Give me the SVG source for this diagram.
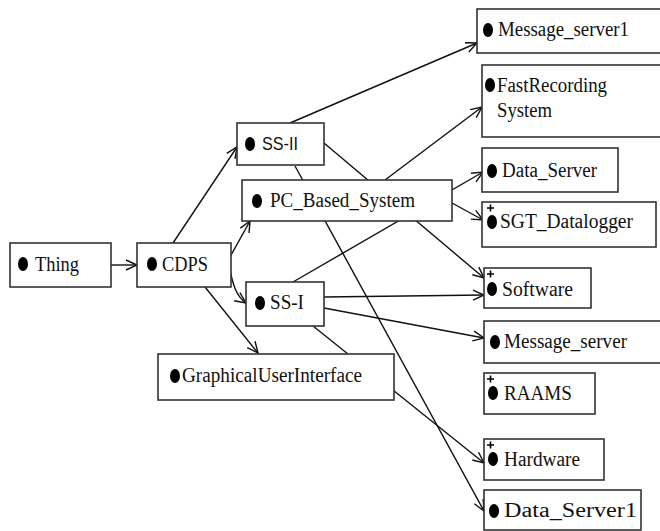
<svg xmlns="http://www.w3.org/2000/svg" width="660" height="531" viewBox="0 0 660 531">
<defs>
<marker id="arr" markerUnits="userSpaceOnUse" markerWidth="14" markerHeight="12" viewBox="-1 -6 13 12" refX="11" refY="0" orient="auto">
<path d="M0,-5 L11,0 L0,5" fill="none" stroke="#111" stroke-width="1.4"/>
</marker>
</defs>
<style>
.box{fill:#fff;stroke:#333;stroke-width:1.6}
.b{fill:#000}
.p{stroke:#000;stroke-width:1.6}
.e{fill:none;stroke:#111;stroke-width:1.4}
</style>
<rect width="660" height="531" fill="#fff"/>
<g id="connectors">
<path class="e" d="M111,265 L137,265" marker-end="url(#arr)"/>
<path class="e" d="M173,243 L237,147" marker-end="url(#arr)"/>
<path class="e" d="M230,257 L250,221" marker-end="url(#arr)"/>
<path class="e" d="M229,266 C233,285 236,296 246,303" marker-end="url(#arr)"/>
<path class="e" d="M205,287 L258,353" marker-end="url(#arr)"/>
<path class="e" d="M290,123 L477,43" marker-end="url(#arr)"/>
<path class="e" d="M324,143 L484,278" marker-end="url(#arr)"/>
<path class="e" d="M295,166 L484,511" marker-end="url(#arr)"/>
<path class="e" d="M385,180 L482,107" marker-end="url(#arr)"/>
<path class="e" d="M452,203 L483,220" marker-end="url(#arr)"/>
<path class="e" d="M293,282 L483,172" marker-end="url(#arr)"/>
<path class="e" d="M324,297 L484,295" marker-end="url(#arr)"/>
<path class="e" d="M324,308 L484,338" marker-end="url(#arr)"/>
<path class="e" d="M313,326 L484,463" marker-end="url(#arr)"/>
</g>
<g font-family="'Liberation Serif', 'DejaVu Serif', serif" font-size="20" fill="#111">
<g id="Thing">
<rect class="box" x="10" y="243" width="101" height="44"/>
<ellipse class="b" cx="23" cy="264" rx="5" ry="7"/>
<text x="35" y="271" textLength="44" lengthAdjust="spacingAndGlyphs">Thing</text>
</g>
<g id="CDPS">
<rect class="box" x="137" y="243" width="94" height="44"/>
<ellipse class="b" cx="152" cy="264" rx="5" ry="7"/>
<text x="162" y="271" textLength="46" lengthAdjust="spacingAndGlyphs">CDPS</text>
</g>
<g id="SS-II">
<rect class="box" x="237" y="123" width="87" height="42"/>
<ellipse class="b" cx="250" cy="144" rx="5" ry="7"/>
<text x="262" y="150" font-family="'Liberation Sans', Arial, sans-serif" font-size="18" textLength="36" lengthAdjust="spacingAndGlyphs">SS-II</text>
</g>
<g id="PC_Based_System">
<rect class="box" x="242" y="180" width="210" height="41"/>
<ellipse class="b" cx="257" cy="201" rx="5" ry="7"/>
<text x="270" y="207" textLength="145" lengthAdjust="spacingAndGlyphs">PC_Based_System</text>
</g>
<g id="SS-I">
<rect class="box" x="246" y="282" width="78" height="44"/>
<ellipse class="b" cx="260" cy="303" rx="5" ry="7"/>
<text x="270" y="309" textLength="34" lengthAdjust="spacingAndGlyphs">SS-I</text>
</g>
<g id="GraphicalUserInterface">
<rect class="box" x="158" y="354" width="236" height="46"/>
<ellipse class="b" cx="175" cy="376" rx="5" ry="7"/>
<text x="182" y="382" textLength="180" lengthAdjust="spacingAndGlyphs">GraphicalUserInterface</text>
</g>
<g id="Message_server1">
<rect class="box" x="477" y="9" width="190" height="44"/>
<ellipse class="b" cx="488" cy="30" rx="5" ry="7"/>
<text x="498" y="36" textLength="131" lengthAdjust="spacingAndGlyphs">Message_server1</text>
</g>
<g id="FastRecordingSystem">
<rect class="box" x="482" y="65" width="190" height="72"/>
<ellipse class="b" cx="490" cy="85" rx="5" ry="7"/>
<text x="497" y="92" textLength="110" lengthAdjust="spacingAndGlyphs">FastRecording</text>
<text x="497" y="117" textLength="55" lengthAdjust="spacingAndGlyphs">System</text>
</g>
<g id="Data_Server">
<rect class="box" x="482" y="148" width="136" height="44"/>
<ellipse class="b" cx="492" cy="171" rx="5" ry="7"/>
<text x="502" y="177" textLength="95" lengthAdjust="spacingAndGlyphs">Data_Server</text>
</g>
<g id="SGT_Datalogger">
<rect class="box" x="482" y="202" width="174" height="45"/>
<path class="p" d="M487,208 H494 M490.5,204.5 V211.5"/>
<ellipse class="b" cx="492" cy="222" rx="5" ry="7"/>
<text x="500" y="228" textLength="133" lengthAdjust="spacingAndGlyphs">SGT_Datalogger</text>
</g>
<g id="Software">
<rect class="box" x="484" y="268" width="107" height="40"/>
<path class="p" d="M487,274 H494 M490.5,270.5 V277.5"/>
<ellipse class="b" cx="492" cy="289" rx="5" ry="7"/>
<text x="502" y="296" textLength="71" lengthAdjust="spacingAndGlyphs">Software</text>
</g>
<g id="Message_server">
<rect class="box" x="484" y="321" width="190" height="42"/>
<ellipse class="b" cx="495" cy="342" rx="5" ry="7"/>
<text x="504" y="348" textLength="123" lengthAdjust="spacingAndGlyphs">Message_server</text>
</g>
<g id="RAAMS">
<rect class="box" x="484" y="373" width="111" height="41"/>
<path class="p" d="M487,379 H494 M490.5,375.5 V382.5"/>
<ellipse class="b" cx="493" cy="393" rx="5" ry="7"/>
<text x="504" y="400" textLength="68" lengthAdjust="spacingAndGlyphs">RAAMS</text>
</g>
<g id="Hardware">
<rect class="box" x="484" y="439" width="120" height="41"/>
<path class="p" d="M487,445 H494 M490.5,441.5 V448.5"/>
<ellipse class="b" cx="493" cy="459" rx="5" ry="7"/>
<text x="504" y="466" textLength="76" lengthAdjust="spacingAndGlyphs">Hardware</text>
</g>
<g id="Data_Server1">
<rect class="box" x="484" y="490" width="157" height="40"/>
<ellipse class="b" cx="494" cy="511" rx="5" ry="7"/>
<text x="504" y="517" textLength="133" lengthAdjust="spacingAndGlyphs">Data_Server1</text>
</g>
</g>
</svg>
